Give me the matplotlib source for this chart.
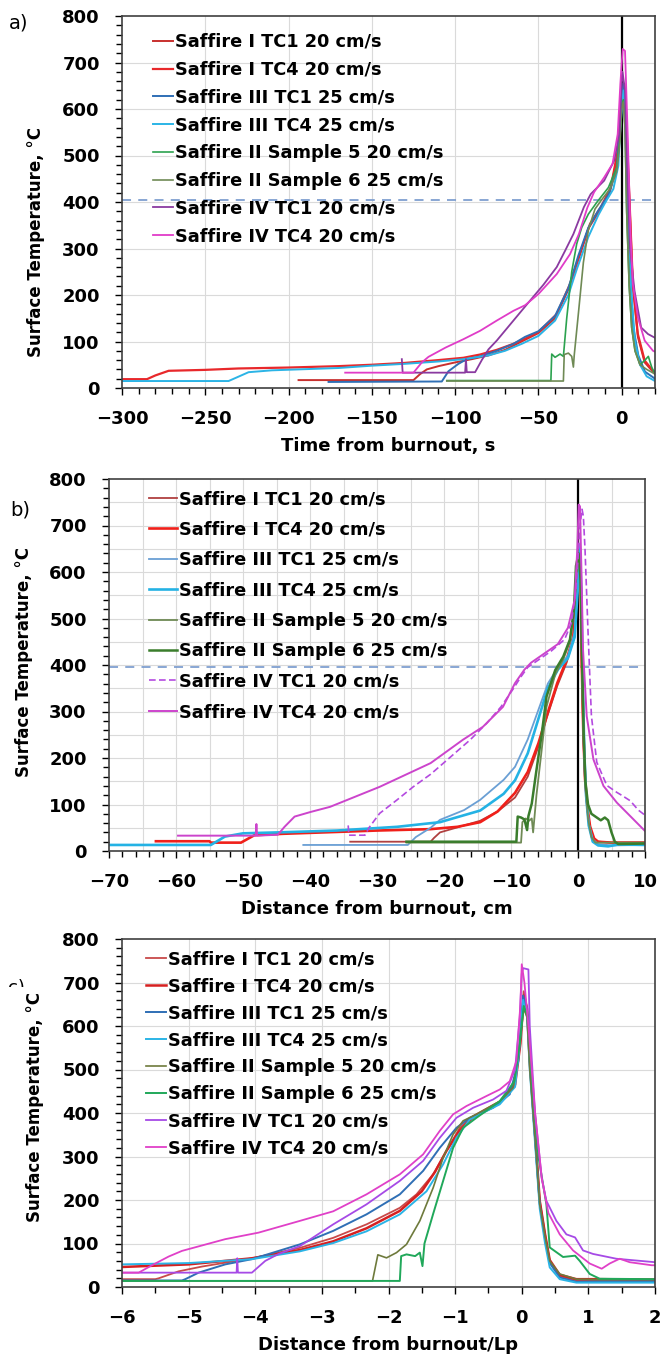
import matplotlib
matplotlib.use("Agg")
import matplotlib.pyplot as plt
from matplotlib.ticker import MultipleLocator
from matplotlib.transforms import Bbox

W, H = 660, 1361

plt.rcParams.update({
    "font.family": "DejaVu Sans",
    "font.weight": "bold",
    "axes.linewidth": 1.0,
    "axes.edgecolor": "#404040",
})

LABELS = ["Saffire I TC1 20 cm/s", "Saffire I TC4 20 cm/s",
          "Saffire III TC1 25 cm/s", "Saffire III TC4 25 cm/s",
          "Saffire II Sample 5 20 cm/s", "Saffire II Sample 6 25 cm/s",
          "Saffire IV TC1 20 cm/s", "Saffire IV TC4 20 cm/s"]

# ---- a) time from burnout, s ----
a_i_tc1_x = [-194, -125, -121, -117, -110, -100, -90, -80, -70, -60, -50, -40, -32, -26, -20, -13, -7, -2.5, -0.5, 1.5, 3, 4.7, 6.7, 9.7, 13.8, 20]
a_i_tc1_y = [17, 17, 30, 40, 47, 55, 62, 70, 82, 100, 118, 150, 212, 278, 343, 383, 422, 500, 605, 648, 540, 400, 220, 110, 55, 30]
a_i_tc4_x = [-300, -285, -280, -272, -250, -230, -200, -170, -150, -130, -110, -95, -85, -75, -65, -58, -50, -39, -31, -25, -19, -12.5, -6.5, -2.4, -0.4, 1.6, 3, 4.7, 6.7, 9.7, 13.8, 18.8, 20]
a_i_tc4_y = [19, 19, 27, 37, 39, 42, 44, 47, 50, 54, 60, 65, 72, 82, 95, 106, 120, 159, 224, 288, 353, 389, 432, 510, 618, 654, 550, 403, 224, 116, 59, 37, 35]
a_iii_tc1_x = [-176, -108, -104, -98, -93, -85, -75, -65, -58, -50, -40, -32, -26, -20, -14, -8, -3, -1, 1, 2, 3.5, 5, 7, 10, 14, 20]
a_iii_tc1_y = [13, 14, 36, 52, 62, 68, 80, 95, 110, 122, 155, 215, 285, 345, 382, 415, 470, 560, 655, 640, 450, 250, 130, 70, 35, 20]
a_iii_tc4_x = [-300, -236, -224, -210, -170, -150, -130, -110, -95, -80, -70, -60, -50, -40, -32, -27, -20, -14, -10, -5, -2, -1, 1, 2, 3.5, 5.5, 8, 11, 15, 20]
a_iii_tc4_y = [15, 15, 34, 38, 43, 48, 52, 57, 62, 70, 80, 95, 112, 145, 200, 255, 325, 372, 398, 428, 478, 550, 640, 620, 420, 220, 100, 50, 25, 15]
a_ii_s5_x = [-105, -42.5, -42, -40, -37, -35, -33, -30, -27, -24, -20, -15, -8, -3, -1, 0, 1, 2, 3, 4.5, 6, 8, 11, 14, 16, 18, 20]
a_ii_s5_y = [16, 16, 73, 66, 73, 68, 150, 250, 310, 345, 374, 399, 431, 474, 540, 610, 620, 560, 380, 220, 130, 80, 50, 60, 68, 45, 30]
a_ii_s6_x = [-105, -35, -34.5, -32, -30, -29, -28.5, -26, -23, -20, -16, -12, -7, -3, -1, 0, 1, 2, 3, 4.5, 6, 8, 11, 15, 20]
a_ii_s6_y = [15, 15, 72, 75, 68, 45, 70, 160, 270, 340, 385, 405, 428, 465, 530, 600, 615, 560, 380, 220, 130, 80, 50, 40, 30]
a_iv_tc1_x = [-132, -131.5, -94, -93.5, -93, -88, -84, -80, -75, -65, -55, -47, -39, -34, -29, -22.7, -18.6, -10.5, -4.5, -1.4, 0, 0.5, 2, 3.5, 5, 7.7, 11.7, 15.8, 20]
a_iv_tc1_y = [62, 33, 33, 62, 34, 34, 60, 83, 102, 145, 188, 222, 260, 295, 331, 389, 417, 446, 489, 546, 654, 680, 640, 450, 300, 209, 130, 116, 108]
a_iv_tc4_x = [-166, -125, -120, -116, -105.7, -95, -85, -75, -65, -58, -50, -39, -31, -25.7, -20.6, -16.6, -10.5, -5.5, -2.4, -0.8, 0.6, 2, 3.6, 5.3, 6.7, 9.7, 13.8, 18.8, 20]
a_iv_tc4_y = [33, 33, 55, 67, 87, 105, 123, 145, 166, 178, 202, 245, 288, 331, 388, 421, 453, 482, 546, 654, 729, 725, 546, 331, 224, 152, 102, 80, 78]

# ---- b) distance from burnout, cm ----
b_i_tc1_x = [-34, -22, -21.5, -20.6, -17, -14.6, -12, -9.4, -7.5, -5.9, -4.7, -3.1, -1.7, -0.7, -0.2, 0.2, 0.4, 0.55, 0.8, 1.05, 1.4, 1.8, 2.4, 3, 5, 10]
b_i_tc1_y = [20, 20, 28, 40, 55, 65, 85, 115, 160, 225, 285, 355, 405, 455, 570, 640, 560, 400, 240, 150, 90, 50, 25, 20, 18, 18]
b_i_tc4_x = [-63, -55, -54.8, -50.3, -48.3, -44, -36, -30, -22, -18, -14.6, -12, -9.4, -7.5, -5.9, -4.7, -3.1, -1.7, -0.7, -0.2, 0.2, 0.4, 0.55, 0.8, 1.05, 1.4, 1.8, 2.4, 3, 5, 10]
b_i_tc4_y = [21, 21, 18, 18, 34, 37, 41, 44, 47, 52, 62, 85, 125, 170, 232, 289, 361, 411, 461, 576, 650, 570, 410, 250, 155, 95, 53, 27, 20, 18, 18]
b_iii_tc1_x = [-41, -25.4, -24.2, -22, -20.6, -17, -14.6, -11.1, -9.4, -7.5, -6, -4.5, -3, -1.5, -0.5, 0, 0.3, 0.5, 0.7, 0.95, 1.2, 1.6, 2.2, 3, 5, 10]
b_iii_tc1_y = [13, 13, 30, 50, 67, 88, 110, 153, 181, 240, 300, 360, 395, 420, 470, 580, 660, 560, 380, 220, 130, 60, 25, 15, 12, 13]
b_iii_tc4_x = [-70, -54.8, -52.7, -50, -44.8, -36, -27, -20.6, -14.6, -11.1, -9.4, -7.5, -6, -4.5, -3, -1.5, -0.5, 0, 0.3, 0.5, 0.7, 0.95, 1.2, 1.6, 2.2, 3, 4.5, 6, 10]
b_iii_tc4_y = [13, 13, 31, 38, 40, 44, 52, 62, 87, 123, 152, 210, 280, 350, 390, 415, 460, 570, 650, 550, 370, 210, 120, 55, 20, 12, 10, 14, 13]
b_ii_s5_x = [-25.6, -8.5, -8.3, -7.8, -7.3, -6.9, -6.7, -6.2, -5.4, -4.7, -3.4, -2.2, -1.2, -0.6, -0.2, 0.2, 0.4, 0.6, 0.85, 1.1, 1.5, 2, 2.6, 10]
b_ii_s5_y = [18, 18, 62, 70, 65, 70, 40, 120, 220, 310, 380, 412, 450, 515, 600, 630, 560, 400, 240, 140, 70, 30, 18, 18]
b_ii_s6_x = [-25.6, -9.2, -9, -8.5, -8, -7.6, -7.4, -6.9, -6.2, -5.4, -4.7, -3.4, -2.2, -1.2, -0.6, -0.3, 0.1, 0.4, 0.6, 0.85, 1.1, 1.5, 2, 2.8, 3.4, 4, 4.5, 5, 5.5, 6, 10]
b_ii_s6_y = [20, 20, 74, 72, 68, 45, 75, 102, 174, 253, 332, 389, 418, 455, 520, 613, 640, 580, 420, 250, 150, 100, 80, 72, 66, 72, 66, 40, 20, 15, 16]
b_iv_tc1_x = [-34.3, -34.2, -31.8, -31.2, -29.6, -27, -24.6, -22, -19.6, -16.1, -13.6, -11.5, -9.7, -8.5, -7.5, -6, -4, -2, -1, -0.3, 0.3, 0.6, 0.8, 1.05, 1.5, 2, 2.8, 4.3, 5.8, 6.5, 7.8, 9, 10]
b_iv_tc1_y = [55, 34, 34, 50, 81, 110, 138, 165, 195, 239, 275, 310, 348, 375, 395, 410, 430, 455, 490, 560, 700, 735, 720, 648, 470, 291, 191, 141, 126, 120, 108, 88, 77]
b_iv_tc4_x = [-59.7, -48.1, -48, -47.9, -44.8, -43.8, -42.3, -39.9, -37, -29.6, -22, -17.2, -14.2, -11.2, -9.4, -8, -7, -5, -3, -1.5, -0.5, -0.1, 0.1, 0.3, 0.55, 0.75, 1.3, 2.3, 3.8, 5.8, 7.8, 10]
b_iv_tc4_y = [33, 33, 58, 33, 35, 52, 74, 84, 95, 138, 189, 239, 267, 310, 361, 390, 405, 425, 445, 480, 540, 650, 745, 741, 576, 433, 290, 197, 140, 104, 75, 43]

# ---- c) distance from burnout / Lp ----
c_i_tc1_x = [-6, -5.5, -5.45, -5.15, -4.8, -4.05, -3.33, -2.83, -2.33, -1.83, -1.58, -1.33, -1.13, -0.93, -0.73, -0.33, -0.1, -0.03, 0.03, 0.08, 0.12, 0.2, 0.27, 0.35, 0.42, 0.57, 0.82, 1.2, 2]
c_i_tc1_y = [18, 18, 20, 36, 47, 66, 90, 113, 144, 182, 213, 259, 313, 366, 393, 427, 470, 560, 680, 640, 520, 351, 198, 121, 60, 25, 15, 16, 16]
c_i_tc4_x = [-6, -5, -4.05, -3.33, -2.83, -2.33, -1.83, -1.5, -1.3, -1.13, -0.93, -0.73, -0.33, -0.1, -0.02, 0.03, 0.08, 0.12, 0.2, 0.27, 0.35, 0.42, 0.57, 0.82, 1.2, 2]
c_i_tc4_y = [46, 52, 66, 85, 105, 135, 175, 220, 265, 313, 360, 390, 425, 465, 560, 670, 640, 520, 351, 198, 121, 62, 28, 18, 18, 17]
c_iii_tc1_x = [-6, -5.1, -5.05, -4.85, -4.45, -4.05, -3.33, -2.83, -2.33, -1.83, -1.48, -1.23, -0.98, -0.78, -0.43, -0.18, -0.05, 0.02, 0.08, 0.12, 0.2, 0.27, 0.35, 0.42, 0.57, 0.82, 1.2, 2]
c_iii_tc1_y = [15, 15, 18, 33, 52, 64, 98, 129, 167, 213, 267, 320, 366, 389, 412, 443, 520, 670, 640, 520, 340, 190, 110, 55, 22, 12, 13, 13]
c_iii_tc4_x = [-6, -5, -4.05, -3.33, -2.83, -2.33, -1.83, -1.43, -1.18, -0.98, -0.78, -0.33, -0.1, -0.03, 0.02, 0.08, 0.12, 0.2, 0.27, 0.35, 0.42, 0.57, 0.82, 1.2, 2]
c_iii_tc4_y = [52, 55, 64, 82, 101, 128, 167, 220, 282, 343, 385, 420, 460, 560, 660, 620, 500, 330, 180, 100, 45, 18, 10, 10, 10]
c_ii_s5_x = [-6, -2.24, -2.16, -2.03, -1.88, -1.73, -1.53, -1.33, -1.18, -1.03, -0.88, -0.68, -0.33, -0.13, -0.03, 0.03, 0.08, 0.12, 0.2, 0.27, 0.35, 0.42, 0.57, 0.82, 1.2, 2]
c_ii_s5_y = [14, 14, 74, 67, 79, 98, 152, 228, 297, 351, 382, 397, 427, 458, 560, 640, 620, 500, 340, 190, 115, 60, 30, 18, 17, 17]
c_ii_s6_x = [-6, -1.83, -1.81, -1.73, -1.6, -1.53, -1.49, -1.46, -1.33, -1.18, -1.03, -0.88, -0.68, -0.33, -0.11, -0.03, 0.03, 0.1, 0.15, 0.25, 0.37, 0.42, 0.62, 0.8, 0.87, 1.02, 1.17, 2]
c_ii_s6_y = [14, 14, 71, 75, 71, 79, 48, 100, 168, 244, 320, 366, 389, 427, 473, 560, 646, 620, 480, 300, 190, 91, 69, 72, 60, 30, 19, 18]
c_iv_tc1_x = [-6, -4.28, -4.27, -4.26, -4.05, -3.85, -3.65, -3.33, -2.83, -2.33, -1.83, -1.48, -1.23, -0.98, -0.73, -0.43, -0.23, -0.1, -0.03, 0, 0.02, 0.1, 0.12, 0.2, 0.3, 0.37, 0.52, 0.67, 0.8, 0.92, 1.07, 1.42, 2]
c_iv_tc1_y = [33, 33, 66, 33, 33, 60, 76, 94, 144, 190, 244, 290, 343, 389, 412, 431, 451, 500, 620, 720, 733, 730, 600, 400, 250, 198, 152, 121, 114, 84, 76, 65, 57]
c_iv_tc4_x = [-6, -5.75, -5.55, -5.3, -5.1, -4.45, -3.95, -3.33, -2.83, -2.33, -1.83, -1.48, -1.23, -1.03, -0.83, -0.53, -0.33, -0.18, -0.08, -0.02, 0, 0.04, 0.1, 0.2, 0.3, 0.4, 0.57, 0.77, 1.02, 1.2, 1.32, 1.47, 1.62, 1.95, 2]
c_iv_tc4_y = [33, 33, 50, 70, 83, 110, 125, 152, 174, 213, 259, 305, 359, 397, 416, 439, 454, 473, 520, 650, 742, 700, 600, 400, 250, 170, 121, 84, 54, 42, 54, 65, 57, 50, 50]

A_SERIES = [(a_i_tc1_x, a_i_tc1_y), (a_i_tc4_x, a_i_tc4_y), (a_iii_tc1_x, a_iii_tc1_y),
            (a_iii_tc4_x, a_iii_tc4_y), (a_ii_s5_x, a_ii_s5_y), (a_ii_s6_x, a_ii_s6_y),
            (a_iv_tc1_x, a_iv_tc1_y), (a_iv_tc4_x, a_iv_tc4_y)]
B_SERIES = [(b_i_tc1_x, b_i_tc1_y), (b_i_tc4_x, b_i_tc4_y), (b_iii_tc1_x, b_iii_tc1_y),
            (b_iii_tc4_x, b_iii_tc4_y), (b_ii_s5_x, b_ii_s5_y), (b_ii_s6_x, b_ii_s6_y),
            (b_iv_tc1_x, b_iv_tc1_y), (b_iv_tc4_x, b_iv_tc4_y)]
C_SERIES = [(c_i_tc1_x, c_i_tc1_y), (c_i_tc4_x, c_i_tc4_y), (c_iii_tc1_x, c_iii_tc1_y),
            (c_iii_tc4_x, c_iii_tc4_y), (c_ii_s5_x, c_ii_s5_y), (c_ii_s6_x, c_ii_s6_y),
            (c_iv_tc1_x, c_iv_tc1_y), (c_iv_tc4_x, c_iv_tc4_y)]

# colours / widths / styles per panel, in LABELS order
A_COL = ["#c8302e", "#e8282b", "#2f6fb5", "#2bb4e6", "#2ca24f", "#6f8a55", "#8a3aa0", "#e03cc8"]
B_COL = ["#b04040", "#f0201a", "#6a9fd4", "#24b2e4", "#6f8a55", "#3a7d2c", "#b44ae0", "#cc44cc"]
C_COL = ["#c84a4a", "#d62020", "#2f6fb5", "#2bb4e6", "#6e7a3c", "#20a85a", "#a64ae6", "#e040c8"]
A_LW = [1.4, 1.6, 1.4, 1.4, 1.2, 1.2, 1.3, 1.3]
B_LW = [1.3, 1.9, 1.3, 1.9, 1.3, 1.8, 1.2, 1.4]
C_LW = [1.3, 1.8, 1.4, 1.4, 1.2, 1.4, 1.3, 1.3]
B_LS = ["-", "-", "-", "-", "-", "-", (0, (4, 2)), "-"]


def px_axes(left, right, top, bottom):
    return fig.add_axes([left / W, 1 - bottom / H, (right - left) / W, (bottom - top) / H])


def style(ax, xlim, xmaj, xmin, grid_x, grid_y, xlabel):
    ax.set_xlim(*xlim)
    ax.set_ylim(0, 800)
    ax.xaxis.set_major_locator(MultipleLocator(xmaj))
    ax.xaxis.set_minor_locator(MultipleLocator(xmin))
    ax.yaxis.set_major_locator(MultipleLocator(100))
    ax.yaxis.set_minor_locator(MultipleLocator(20))
    ax.tick_params(which="major", direction="out", length=5, width=1.0, pad=11, labelsize=13)
    ax.tick_params(which="minor", direction="out", length=4, width=1.0)
    for lab in ax.get_xticklabels() + ax.get_yticklabels():
        lab.set_fontweight("bold")
    for s in ax.spines.values():
        s.set_linewidth(1.2)
        s.set_color("#404040")
        s.set_zorder(6)
    for gx in grid_x:
        ax.axvline(gx, color="#dadada", lw=0.8, zorder=0)
    for gy in grid_y:
        ax.axhline(gy, color="#dadada", lw=0.8, zorder=0)
    ax.set_xlabel(xlabel, fontsize=13, fontweight="bold", labelpad=6)


def draw(ax, series, cols, lws, styles=None):
    lines = []
    for i, (x, y) in enumerate(series):
        ls = styles[i] if styles else "-"
        ln, = ax.plot(x, y, color=cols[i], lw=lws[i], ls=ls, zorder=3)
        lines.append(ln)
    return lines


def legend(ax, lines, x_px, top_px, spacing, hlen):
    ax.legend(lines, LABELS, loc="upper left",
              bbox_to_anchor=(x_px / W, 1 - top_px / H), bbox_transform=fig.transFigure,
              frameon=False, borderpad=0, borderaxespad=0,
              prop={"weight": "bold", "size": 12.8},
              labelspacing=spacing, handlelength=hlen, handletextpad=0.15)


fig = plt.figure(figsize=(W / 100, H / 100), dpi=100)

# panel a
ax = px_axes(122, 655, 16, 388)
style(ax, (-300, 20), 50, 10, range(-250, 20, 50), range(100, 800, 100), "Time from burnout, s")
ax.axhline(405, color="#7f9fd0", lw=1.3, ls=(0, (5, 4)), zorder=2)
ax.axvline(0, color="black", lw=1.6, zorder=2)
lines = draw(ax, A_SERIES, A_COL, A_LW)
legend(ax, lines, 153, 33, 0.55, 1.1)
fig.text(36 / W, 1 - 242 / H, "Surface Temperature, \u00b0C", rotation=90,
         ha="center", va="center", fontsize=12, fontweight="bold")
fig.text(9 / W, 1 - 23 / H, "a)", ha="left", va="center", fontsize=14, fontweight="normal")

# panel b (finer grid)
ax = px_axes(109, 645, 479, 851)
style(ax, (-70, 10), 10, 2, range(-65, 10, 5), range(50, 800, 50), "Distance from burnout, cm")
ax.axhline(395, color="#7f9fd0", lw=1.3, ls=(0, (5, 4)), zorder=2)
ax.axvline(0, color="black", lw=1.6, zorder=2)
lines = draw(ax, B_SERIES, B_COL, B_LW, B_LS)
legend(ax, lines, 149, 490, 0.70, 1.55)
fig.text(24 / W, 1 - 662 / H, "Surface Temperature, \u00b0C", rotation=90,
         ha="center", va="center", fontsize=12, fontweight="bold")
fig.text(10 / W, 1 - 510 / H, "b)", ha="left", va="center", fontsize=14, fontweight="normal")

# panel c
ax = px_axes(122, 655, 939, 1287)
style(ax, (-6, 2), 1, 0.5, range(-5, 2), range(100, 800, 100), "Distance from burnout/Lp")
lines = draw(ax, C_SERIES, C_COL, C_LW)
legend(ax, lines, 146, 950, 0.51, 1.1)
fig.text(35 / W, 1 - 1107 / H, "Surface Temperature, \u00b0C", rotation=90,
         ha="center", va="center", fontsize=12, fontweight="bold")
# the panel letter is cut off in the source: only its top edge shows
t = fig.text(8 / W, 1 - 979 / H, "c)", ha="left", va="top", fontsize=13, fontweight="normal")
t.set_clip_box(Bbox.from_extents(0, H - 987, 26, H - 970))
t.set_clip_on(True)

fig.savefig("out.png", dpi=100)
